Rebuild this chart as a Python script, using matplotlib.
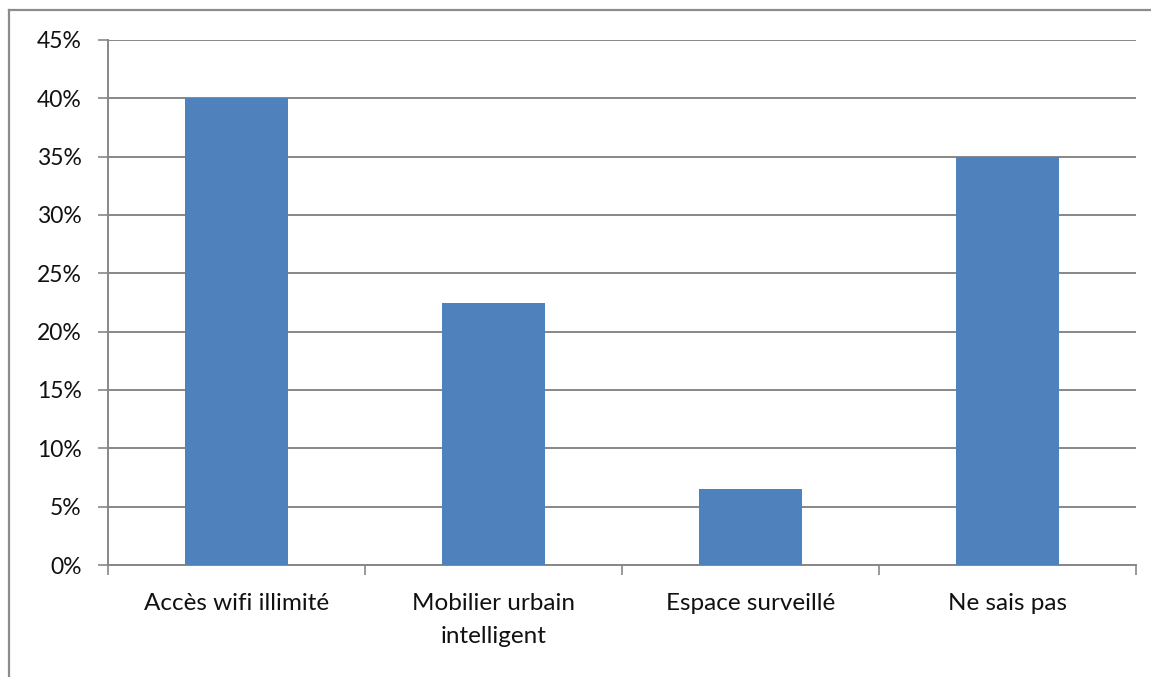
import matplotlib
matplotlib.use("Agg")
import matplotlib.pyplot as plt
from matplotlib.lines import Line2D
from matplotlib.ticker import FuncFormatter, MultipleLocator

categories = ["Accès wifi illimité", "Mobilier urbain\nintelligent",
              "Espace surveillé", "Ne sais pas"]
values = [40.0, 22.5, 6.5, 35.0]

BAR = "#4F81BD"
GRID = "#878787"
W, H = 1151, 677

plt.rcParams["font.family"] = ["Lato", "DejaVu Sans"]

fig = plt.figure(figsize=(W / 100, H / 100), dpi=100)
ax = fig.add_axes([108 / W, 1 - 565 / H, (1136 - 108) / W, (565 - 40) / H])

x = list(range(len(categories)))
ax.bar(x, values, width=0.4, color=BAR, zorder=3)

ax.set_xlim(-0.5, len(categories) - 0.5)
ax.set_ylim(0, 45)
ax.yaxis.set_major_locator(MultipleLocator(5))
ax.yaxis.set_major_formatter(FuncFormatter(lambda v, _: f"{v:.0f}%"))
ax.grid(axis="y", color=GRID, linewidth=1.4, zorder=0)

# category labels sit between the boundary ticks
ax.set_xticks([i + 0.5 for i in range(-1, len(categories))])
ax.set_xticklabels([])
ax.set_xticks(x, minor=True)
ax.set_xticklabels(categories, minor=True, fontsize=17.5, color="#111111",
                   linespacing=1.7)
ax.tick_params(axis="x", which="minor", length=0, pad=20)
ax.tick_params(axis="x", which="major", length=7, width=1.2, color=GRID,
               direction="out")
ax.tick_params(axis="y", length=7, width=1.2, color=GRID, pad=12,
               labelsize=16.5, labelcolor="#111111")

for s in ("top", "right"):
    ax.spines[s].set_visible(False)
for s in ("left", "bottom"):
    ax.spines[s].set_color(GRID)
    ax.spines[s].set_linewidth(1.4)

# chart area frame (left and top edges)
fig.add_artist(Line2D([8.5 / W, 8.5 / W], [0, 1 - 10 / H],
                      transform=fig.transFigure, color="#8c8c8c", linewidth=1.6))
fig.add_artist(Line2D([8.5 / W, 1], [1 - 10 / H, 1 - 10 / H],
                      transform=fig.transFigure, color="#8c8c8c", linewidth=1.6))

fig.savefig("out.png", dpi=100, facecolor="white")
